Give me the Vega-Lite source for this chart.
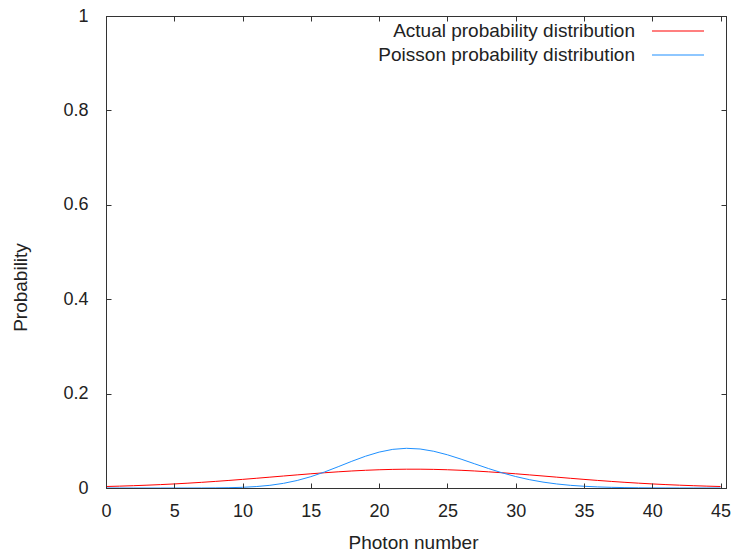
{
  "$schema": "https://vega.github.io/schema/vega-lite/v6.json",
  "autosize": "none",
  "width": 620,
  "height": 472,
  "padding": {"left": 106, "top": 16, "right": 6, "bottom": 66},
  "background": "white",
  "config": {
    "font": "Liberation Sans",
    "view": {"stroke": "#333", "strokeWidth": 1},
    "axis": {"grid": false, "domainColor": "#333", "tickColor": "#333", "labelColor": "#222", "titleColor": "#222", "labelFontSize": 18, "titleFontSize": 19, "titleFontWeight": "normal", "tickSize": -5, "domain": true}
  },
  "data": {"values": [
    {"n": 0, "p": 0.00317, "series": "Actual probability distribution"},
    {"n": 1, "p": 0.00395, "series": "Actual probability distribution"},
    {"n": 2, "p": 0.00488, "series": "Actual probability distribution"},
    {"n": 3, "p": 0.00596, "series": "Actual probability distribution"},
    {"n": 4, "p": 0.00721, "series": "Actual probability distribution"},
    {"n": 5, "p": 0.00863, "series": "Actual probability distribution"},
    {"n": 6, "p": 0.01023, "series": "Actual probability distribution"},
    {"n": 7, "p": 0.012, "series": "Actual probability distribution"},
    {"n": 8, "p": 0.01394, "series": "Actual probability distribution"},
    {"n": 9, "p": 0.01604, "series": "Actual probability distribution"},
    {"n": 10, "p": 0.01826, "series": "Actual probability distribution"},
    {"n": 11, "p": 0.02059, "series": "Actual probability distribution"},
    {"n": 12, "p": 0.02299, "series": "Actual probability distribution"},
    {"n": 13, "p": 0.0254, "series": "Actual probability distribution"},
    {"n": 14, "p": 0.0278, "series": "Actual probability distribution"},
    {"n": 15, "p": 0.03011, "series": "Actual probability distribution"},
    {"n": 16, "p": 0.03229, "series": "Actual probability distribution"},
    {"n": 17, "p": 0.03429, "series": "Actual probability distribution"},
    {"n": 18, "p": 0.03605, "series": "Actual probability distribution"},
    {"n": 19, "p": 0.03752, "series": "Actual probability distribution"},
    {"n": 20, "p": 0.03866, "series": "Actual probability distribution"},
    {"n": 21, "p": 0.03944, "series": "Actual probability distribution"},
    {"n": 22, "p": 0.03984, "series": "Actual probability distribution"},
    {"n": 23, "p": 0.03984, "series": "Actual probability distribution"},
    {"n": 24, "p": 0.03944, "series": "Actual probability distribution"},
    {"n": 25, "p": 0.03866, "series": "Actual probability distribution"},
    {"n": 26, "p": 0.03752, "series": "Actual probability distribution"},
    {"n": 27, "p": 0.03605, "series": "Actual probability distribution"},
    {"n": 28, "p": 0.03429, "series": "Actual probability distribution"},
    {"n": 29, "p": 0.03229, "series": "Actual probability distribution"},
    {"n": 30, "p": 0.03011, "series": "Actual probability distribution"},
    {"n": 31, "p": 0.0278, "series": "Actual probability distribution"},
    {"n": 32, "p": 0.0254, "series": "Actual probability distribution"},
    {"n": 33, "p": 0.02299, "series": "Actual probability distribution"},
    {"n": 34, "p": 0.02059, "series": "Actual probability distribution"},
    {"n": 35, "p": 0.01826, "series": "Actual probability distribution"},
    {"n": 36, "p": 0.01604, "series": "Actual probability distribution"},
    {"n": 37, "p": 0.01394, "series": "Actual probability distribution"},
    {"n": 38, "p": 0.012, "series": "Actual probability distribution"},
    {"n": 39, "p": 0.01023, "series": "Actual probability distribution"},
    {"n": 40, "p": 0.00863, "series": "Actual probability distribution"},
    {"n": 41, "p": 0.00721, "series": "Actual probability distribution"},
    {"n": 42, "p": 0.00596, "series": "Actual probability distribution"},
    {"n": 43, "p": 0.00488, "series": "Actual probability distribution"},
    {"n": 44, "p": 0.00395, "series": "Actual probability distribution"},
    {"n": 45, "p": 0.00317, "series": "Actual probability distribution"},
    {"n": 0, "p": 0, "series": "Poisson probability distribution"},
    {"n": 1, "p": 0, "series": "Poisson probability distribution"},
    {"n": 2, "p": 0, "series": "Poisson probability distribution"},
    {"n": 3, "p": 0, "series": "Poisson probability distribution"},
    {"n": 4, "p": 0, "series": "Poisson probability distribution"},
    {"n": 5, "p": 0.00001, "series": "Poisson probability distribution"},
    {"n": 6, "p": 0.00003, "series": "Poisson probability distribution"},
    {"n": 7, "p": 0.00009, "series": "Poisson probability distribution"},
    {"n": 8, "p": 0.00026, "series": "Poisson probability distribution"},
    {"n": 9, "p": 0.00065, "series": "Poisson probability distribution"},
    {"n": 10, "p": 0.00147, "series": "Poisson probability distribution"},
    {"n": 11, "p": 0.00302, "series": "Poisson probability distribution"},
    {"n": 12, "p": 0.00568, "series": "Poisson probability distribution"},
    {"n": 13, "p": 0.00987, "series": "Poisson probability distribution"},
    {"n": 14, "p": 0.01594, "series": "Poisson probability distribution"},
    {"n": 15, "p": 0.02401, "series": "Poisson probability distribution"},
    {"n": 16, "p": 0.03391, "series": "Poisson probability distribution"},
    {"n": 17, "p": 0.04508, "series": "Poisson probability distribution"},
    {"n": 18, "p": 0.0566, "series": "Poisson probability distribution"},
    {"n": 19, "p": 0.06732, "series": "Poisson probability distribution"},
    {"n": 20, "p": 0.07607, "series": "Poisson probability distribution"},
    {"n": 21, "p": 0.08187, "series": "Poisson probability distribution"},
    {"n": 22, "p": 0.0841, "series": "Poisson probability distribution"},
    {"n": 23, "p": 0.08264, "series": "Poisson probability distribution"},
    {"n": 24, "p": 0.07782, "series": "Poisson probability distribution"},
    {"n": 25, "p": 0.07035, "series": "Poisson probability distribution"},
    {"n": 26, "p": 0.06115, "series": "Poisson probability distribution"},
    {"n": 27, "p": 0.05118, "series": "Poisson probability distribution"},
    {"n": 28, "p": 0.04131, "series": "Poisson probability distribution"},
    {"n": 29, "p": 0.03219, "series": "Poisson probability distribution"},
    {"n": 30, "p": 0.02425, "series": "Poisson probability distribution"},
    {"n": 31, "p": 0.01768, "series": "Poisson probability distribution"},
    {"n": 32, "p": 0.01249, "series": "Poisson probability distribution"},
    {"n": 33, "p": 0.00855, "series": "Poisson probability distribution"},
    {"n": 34, "p": 0.00568, "series": "Poisson probability distribution"},
    {"n": 35, "p": 0.00367, "series": "Poisson probability distribution"},
    {"n": 36, "p": 0.0023, "series": "Poisson probability distribution"},
    {"n": 37, "p": 0.00141, "series": "Poisson probability distribution"},
    {"n": 38, "p": 0.00084, "series": "Poisson probability distribution"},
    {"n": 39, "p": 0.00049, "series": "Poisson probability distribution"},
    {"n": 40, "p": 0.00027, "series": "Poisson probability distribution"},
    {"n": 41, "p": 0.00015, "series": "Poisson probability distribution"},
    {"n": 42, "p": 0.00008, "series": "Poisson probability distribution"},
    {"n": 43, "p": 0.00004, "series": "Poisson probability distribution"},
    {"n": 44, "p": 0.00002, "series": "Poisson probability distribution"},
    {"n": 45, "p": 0.00001, "series": "Poisson probability distribution"}
  ]},
  "layer": [
    {
      "mark": {"type": "line", "strokeWidth": 1, "interpolate": "linear"},
      "encoding": {
        "x": {"field": "n", "type": "quantitative", "scale": {"domain": [0, 45.4], "nice": false, "zero": false},
              "axis": {"orient": "bottom", "title": "Photon number", "values": [0,5,10,15,20,25,30,35,40,45], "format": "~g", "labelPadding": 19, "titlePadding": 13, "titleX": 307, "zindex": 1, "labelFlush": false}},
        "y": {"field": "p", "type": "quantitative", "scale": {"domain": [0, 1], "nice": false},
              "axis": {"orient": "left", "title": "Probability", "values": [0,0.2,0.4,0.6,0.8,1], "format": "~g", "labelPadding": 23, "titlePadding": 32, "titleY": 271, "zindex": 1, "labelFlush": false}},
        "color": {"field": "series", "type": "nominal",
                  "scale": {"domain": ["Actual probability distribution", "Poisson probability distribution"], "range": ["#ff0000", "#1e90ff"]},
                  "legend": {"title": null, "orient": "none", "legendX": 562, "legendY": 5, "symbolType": "M-2.89,0H2.89", "symbolSize": 324, "symbolStrokeWidth": 1.2, "labelAlign": "right", "labelOffset": -53, "labelFontSize": 19, "labelLimit": 0, "labelColor": "#222", "rowPadding": 4, "padding": 0}}
      }
    },
    {
      "mark": {"type": "line", "opacity": 0},
      "encoding": {
        "x": {"field": "n", "type": "quantitative", "axis": {"orient": "top", "title": null, "labels": false, "values": [0,5,10,15,20,25,30,35,40,45]}},
        "y": {"field": "p", "type": "quantitative", "axis": {"orient": "right", "title": null, "labels": false, "values": [0,0.2,0.4,0.6,0.8,1]}},
        "detail": {"field": "series"}
      }
    }
  ],
  "resolve": {"axis": {"x": "independent", "y": "independent"}}
}
